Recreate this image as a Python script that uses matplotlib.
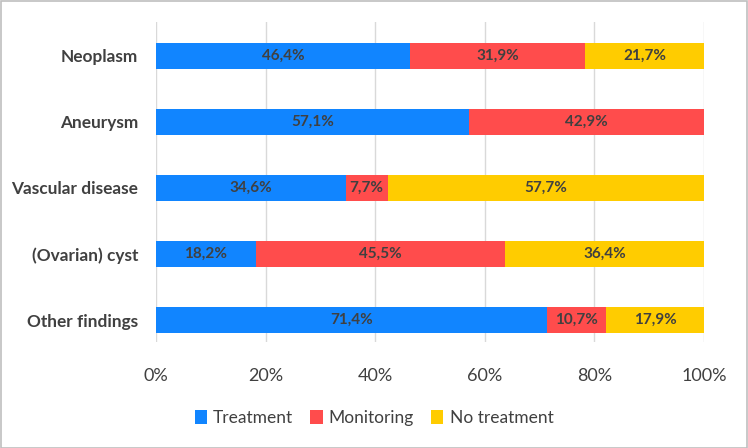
import numpy as np
import matplotlib.pyplot as plt
from matplotlib.patches import Rectangle

categories = ['Neoplasm', 'Aneurysm', 'Vascular disease', '(Ovarian) cyst', 'Other findings']
treatment = [46.4, 57.1, 34.6, 18.2, 71.4]
monitoring = [31.9, 42.9, 7.7, 45.5, 10.7]
no_treatment = [21.7, 0.0, 57.7, 36.4, 17.9]
series_names = ['Treatment', 'Monitoring', 'No treatment']
colors = ['#1185FF', '#FF4C4C', '#FFCC00']

plt.rcParams['font.family'] = ['Lato', 'DejaVu Sans']

W, H = 748, 448
fig = plt.figure(figsize=[W / 100, H / 100], dpi=100)
ax = fig.add_axes([156 / W, 1 - 342 / H, (704 - 156) / W, (342 - 22) / H])

y = np.arange(len(categories))
left = np.zeros(len(categories))
for vals, name, c in zip([treatment, monitoring, no_treatment], series_names, colors):
    vals = np.array(vals)
    bars = ax.barh(y, vals, left=left, height=0.4, color=c, label=name)
    for b, v in zip(bars, vals):
        if v > 0:
            ax.text(b.get_x() + b.get_width() / 2, b.get_y() + b.get_height() / 2,
                    f'{v:.1f}%'.replace('.', ','), ha='center', va='center',
                    fontsize=11, fontweight='bold', color='#404040')
    left += vals

ax.set_xlim(0, 100)
ax.set_ylim(4 + 22 / 66, -34 / 66)
ax.set_yticks(y)
ax.set_yticklabels(categories, fontsize=12.4, fontweight='bold', color='#404040')
ax.set_xticks(np.arange(0, 101, 20))
ax.set_xticklabels([f'{t}%' for t in range(0, 101, 20)], fontsize=13, color='#404040')
ax.tick_params(length=0)
ax.tick_params(axis='x', pad=19)
ax.tick_params(axis='y', pad=13)
ax.grid(axis='x', color='#D9D9D9', lw=1)
ax.set_axisbelow(True)
for s in ax.spines.values():
    s.set_visible(False)

ax.legend(loc='center', bbox_to_anchor=(0.5, (H - 418) / H), bbox_transform=fig.transFigure,
          ncol=3, frameon=False, fontsize=12.5, handlelength=0.7, handleheight=0.9,
          handletextpad=0.35, columnspacing=1.0, labelcolor='#404040')

fig.patches.append(Rectangle((0.5 / W, 0.5 / H), 1 - 1.5 / W, 1 - 1.5 / H, transform=fig.transFigure,
                             fill=False, edgecolor='#BFBFBF', lw=1.2))

fig.savefig('out.png', dpi=100)
